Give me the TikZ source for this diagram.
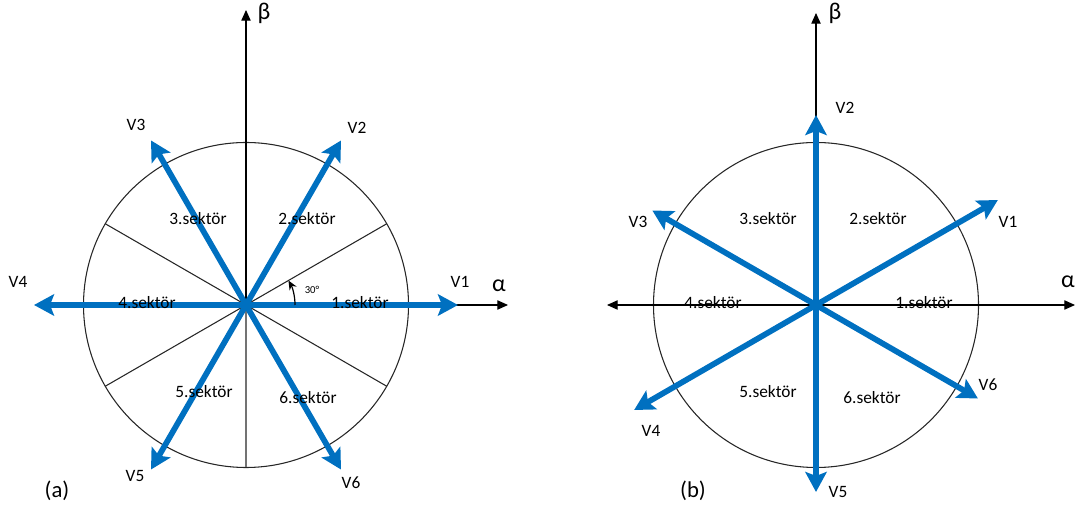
\documentclass[tikz,border=0pt]{standalone}
\usepackage{fontspec}
\setmainfont{Carlito}
\usetikzlibrary{arrows.meta,calc}

\definecolor{vblue}{RGB}{0,112,192}

\begin{document}
\begin{tikzpicture}[
  x=0.75pt, y=0.75pt,
  font=\fontsize{13}{15}\selectfont,
  thin/.style={draw=black!85, line width=0.8pt},
  ax/.style={draw=black, line width=0.8pt, -{Triangle[length=8pt,width=7pt]}},
  vec/.style={draw=vblue, line width=4.3pt, -{Stealth[length=15pt,width=16pt,inset=3pt]}},
  lbl/.style={inner sep=0pt},
  greek/.style={inner sep=0pt, font=\fontsize{18}{20}\selectfont}
]
\useasboundingbox (0,0) rectangle (1087,513);

% (a)
\begin{scope}[shift={(246,208)}]
\coordinate (ao) at (0,0);
\draw[thin] (ao) circle (162.5);
\foreach \a in {30,150,210,330}
  \draw[thin] (ao) -- (\a:162.5);
\draw[thin, draw=black!55] (ao) -- (270:162.5);
\coordinate (abeta) at (0,295);
\coordinate (aalpha) at (262,0);
\draw[ax] (ao) -- (abeta);
\draw[ax] (-162.5,0) -- (aalpha);
\coordinate (a1) at (212,0);
\coordinate (a2) at (60:190);
\coordinate (a3) at (120:190);
\coordinate (a4) at (-212,0);
\coordinate (a5) at (240:190);
\coordinate (a6) at (300:190);
\foreach \i in {1,...,6}
  \draw[vec] (ao) -- (a\i);
% angle mark
\draw[black, line width=0.9pt, -{Stealth[length=7pt,width=6pt]}] (49,0) arc (0:30:49);
\node[lbl, font=\fontsize{8}{9}\selectfont] (aang) at (66,15) {30°};
\node[lbl] (av1) at (214,23) {V1};
\node[lbl] (av2) at (111,177) {V2};
\node[lbl] (av3) at (-110,180) {V3};
\node[lbl] (av4) at (-228,23) {V4};
\node[lbl] (av5) at (-111,-171) {V5};
\node[lbl] (av6) at (105,-178) {V6};
\node[greek] (aal) at (253,19) {α};
\node[greek] (abe) at (18,292) {β};
\node[lbl] (as1) at (114,2) {1.sektör};
\node[lbl] (as2) at (61,86) {2.sektör};
\node[lbl] (as3) at (-48,86) {3.sektör};
\node[lbl] (as4) at (-99,2) {4.sektör};
\node[lbl] (as5) at (-42,-87) {5.sektör};
\node[lbl] (as6) at (62,-93) {6.sektör};
\node[lbl, font=\fontsize{17}{19}\selectfont] (acap) at (-189,-186) {(a)};
\end{scope}

% (b)
\begin{scope}[shift={(816,208)}]
\coordinate (bo) at (0,0);
\draw[thin] (bo) circle (162.5);
\coordinate (bbeta) at (0,292);
\coordinate (balpha) at (259,0);
\coordinate (bminus) at (-209,0);
\draw[ax] (bo) -- (bbeta);
\draw[ax, {Triangle[length=8pt,width=7pt]}-{Triangle[length=8pt,width=7pt]}] (bminus) -- (balpha);
\coordinate (b1) at (30:210);
\coordinate (b2) at (90:190);
\coordinate (b3) at (150:189);
\coordinate (b4) at (210:210);
\coordinate (b5) at (270:187);
\coordinate (b6) at (330:187);
\foreach \i in {1,...,6}
  \draw[vec] (bo) -- (b\i);
\node[lbl] (bv1) at (192,83) {V1};
\node[lbl] (bv2) at (29,197) {V2};
\node[lbl] (bv3) at (-178,83) {V3};
\node[lbl] (bv4) at (-165,-126) {V4};
\node[lbl] (bv5) at (22,-187) {V5};
\node[lbl] (bv6) at (172,-80) {V6};
\node[greek] (bal) at (252,23) {α};
\node[greek] (bbe) at (19,292) {β};
\node[lbl] (bs1) at (108,2) {1.sektör};
\node[lbl] (bs2) at (62,86) {2.sektör};
\node[lbl] (bs3) at (-48,86) {3.sektör};
\node[lbl] (bs4) at (-103,2) {4.sektör};
\node[lbl] (bs5) at (-48,-87) {5.sektör};
\node[lbl] (bs6) at (56,-93) {6.sektör};
\node[lbl, font=\fontsize{17}{19}\selectfont] (bcap) at (-123,-186) {(b)};
\end{scope}
\end{tikzpicture}
\end{document}
